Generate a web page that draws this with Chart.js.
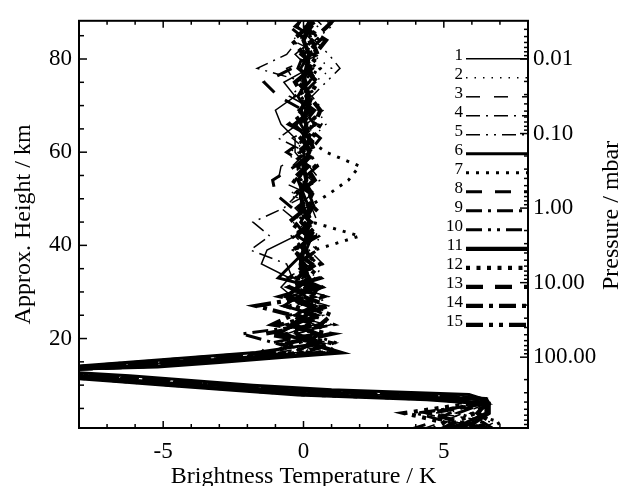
<!DOCTYPE html>
<html lang="en">
<head>
<meta charset="UTF-8">
<title>Brightness temperature profiles</title>
<style>
  body { margin: 0; background: #fff; }
</style>
</head>
<body>
<canvas id="myChart" width="625" height="486"></canvas>

<script src="https://cdn.jsdelivr.net/npm/chart.js"></script>
<script>
// approx. height of each profile level, km
const heights = [0.5, 2, 4, 6, 7, 8, 9, 10, 11, 12, 13, 14, 15, 16, 17,
  19, 21, 23, 25, 27, 29, 31, 33, 36, 39, 42, 45, 48, 51, 54, 57, 60, 63, 66, 69, 72, 75, 78, 81, 84, 87, 90];

// brightness temperature difference (K), one array per profile
const tb01 = [5.6, 6.0, 6.3, 6.4, 6.5, 2.5, -1.1, -3.3, -5.6, -7.8, -10.5, -6.7, -4.5, -2.4, -0.2,
  0.3, -0.6, 0.4, -0.3, 0.5, -0.4, -0.8, -0.5, -1.5, -1.3, -0.3, 0.2, -0.3, 0.3, -0.2, 0.1, -0.3, -0.3, -0.8, -1.0, -0.3, -0.7, 0.2, -0.3, 0.3, -0.2, 0.1];
const tb02 = [6.9, 6.3, 5.1, 6.3, 6.6, 4.4, -0.2, -2.4, -4.7, -6.9, -9.6, -6.0, -3.9, -1.7, 0.4,
  -0.5, 0.6, -0.2, 0.7, -0.6, 0.4, -0.3, 0.5, -0.2, 0.3, 0.6, -0.4, 0.2, -0.5, 0.4, -0.3, -0.5, 0.3, 0.8, 0.5, -0.2, 0.4, 1.0, 0.3, -0.4, 0.2, -0.1];
const tb03 = [4.2, 4.9, 5.7, 6.5, 5.4, 0.5, -2.0, -4.2, -6.4, -8.7, -11.4, -7.3, -5.2, -3.0, -0.9,
  0.9, -0.3, 1.0, 0.2, -0.8, 0.6, 0.0, -0.6, 0.3, -0.4, 0.4, -0.2, -0.8, 0.2, -0.9, -0.8, 0.2, -0.4, 0.5, -0.2, 0.3, -0.3, -0.6, 0.6, -0.4, 0.7, 0.2];
const tb04 = [6.3, 6.8, 4.7, 6.2, 6.4, 5.4, 0.5, -2.0, -4.2, -6.4, -9.2, -5.4, -3.2, -1.1, 1.1,
  -0.8, 0.3, -0.5, 0.4, 0.9, -0.2, 0.5, -0.4, -0.6, -1.9, -1.2, -1.8, -0.7, -0.2, 0.3, -0.4, 0.1, -0.9, -0.2, 0.4, -0.5, 0.1, -1.65, -0.6, -0.2, 0.5, 0.0];
const tb05 = [7.2, 5.5, 4.3, 6.4, 6.3, 1.5, -1.6, -3.8, -6.0, -8.2, -10.9, -7.8, -5.6, -3.5, -1.3,
  0.5, -0.2, 0.8, -0.4, 0.3, 0.9, -0.3, 0.4, 0.7, 0.2, -0.3, 0.5, 0.3, -0.4, 0.6, 0.2, -0.2, 0.5, 0.1, 0.7, 0.3, 0.8, 1.3, 0.9, 0.4, 1.0, 0.6];
const tb06 = [5.0, 5.8, 6.5, 6.5, 6.4, 5.9, 1.0, -1.8, -4.0, -6.2, -9.0, -8.2, -6.0, -3.9, -1.7,
  0.6, -0.9, -0.3, 0.5, -0.7, -0.2, 0.4, -0.9, -0.4, 0.1, 0.3, -0.1, 0.2, 0.0, -0.2, 0.1, 0.0, 0.2, -0.1, 0.1, -0.2, 0.1, -0.1, 0.2, 0.0, 0.3, 0.1];
const tb07 = [6.6, 7.0, 6.0, 6.6, 6.6, 3.0, -0.9, -3.1, -5.3, -7.6, -10.3, -5.6, -3.5, -1.3, 0.9,
  1.2, 0.2, 0.8, -0.3, 0.5, 0.1, -0.4, 0.2, 0.0, 0.4, 2.0, 0.3, 0.1, 0.9, 1.6, 2.0, 0.8, 0.1, 0.3, -0.2, 0.4, 0.1, 0.6, 0.2, 0.5, 0.3, 0.0];
const tb08 = [3.8, 4.6, 5.2, 6.3, 6.6, 4.9, 0.0, -2.2, -4.4, -6.7, -10.6, -8.0, -5.8, -3.7, -1.5,
  -1.2, 0.4, -0.6, 0.8, 0.1, -0.5, 0.7, 0.2, -0.3, 0.5, -0.2, 0.3, -0.4, -1.0, -1.1, -0.3, 0.3, -0.1, 0.4, 0.0, -0.9, -1.4, -0.4, 0.3, 0.1, -0.5, 0.2];
const tb09 = [6.0, 5.2, 4.0, 6.5, 5.9, 1.0, -1.8, -4.0, -6.2, -8.4, -11.1, -6.3, -4.1, -1.9, 0.2,
  -1.0, -2.2, 0.3, -0.5, 0.6, -0.9, 0.2, -0.3, 0.5, 0.0, -0.4, 0.3, -0.2, 0.4, -0.3, 0.2, -0.6, 0.1, -0.3, 0.3, -0.1, 0.4, -0.2, 0.0, 0.6, -0.3, 0.2];
const tb10 = [6.8, 6.4, 5.5, 6.4, 6.5, 3.9, -0.4, -2.7, -4.9, -7.1, -9.8, -6.9, -4.7, -2.6, -0.4,
  0.4, -0.7, 1.1, 0.3, -0.5, 0.8, -0.6, 0.3, -0.2, 0.5, 0.1, -0.3, 0.4, 0.2, -0.1, 0.5, 0.2, 0.6, 0.0, 0.4, -0.3, 0.2, 0.5, -0.1, 0.3, 0.1, 0.4];
const tb11 = [5.3, 6.1, 6.6, 6.6, 4.4, -0.2, -2.4, -4.7, -6.9, -9.1, -11.8, -5.2, -3.0, -0.9, 1.3,
  0.2, 0.5, -0.4, 0.1, 0.3, -0.6, -0.2, 0.2, -0.1, 0.0, 0.1, 0.2, 0.0, -0.1, 0.1, 0.0, 0.2, 0.0, 0.1, -0.1, 0.2, 0.0, 0.1, 0.2, 0.0, 0.2, 0.3];
const tb12 = [4.6, 5.0, 3.6, 5.9, 4.9, 0.0, -2.2, -4.4, -6.7, -8.9, -11.6, -7.5, -5.4, -3.2, -1.1,
  -0.3, 0.8, -0.8, 0.4, -0.3, 0.7, 0.1, -0.5, 0.6, -0.2, 0.4, 0.0, 0.5, -0.3, 0.2, 0.4, -0.1, 0.3, 0.6, 0.1, 0.3, -0.2, 0.2, 0.5, 0.2, 0.4, 0.1];
const tb13 = [5.9, 6.7, 6.2, 6.5, 6.5, 3.5, -0.7, -2.9, -5.1, -7.3, -10.1, -5.8, -3.7, -1.5, 0.7,
  0.7, -1.4, 0.5, -0.2, 0.9, 0.0, 0.6, -0.2, 0.3, 0.1, -0.3, 0.4, -0.1, 0.3, 0.0, -0.2, 0.4, 0.2, -0.3, 0.3, 0.1, 0.4, 0.2, 0.5, 0.3, 0.85, 1.3];
const tb14 = [6.5, 5.6, 4.5, 6.3, 6.4, 2.0, -1.3, -3.6, -5.8, -8.0, -10.8, -7.1, -5.0, -2.8, -0.7,
  -0.6, 1.0, -1.1, -0.4, -1.7, 0.3, -0.5, 0.6, 0.0, -0.3, 0.2, -0.5, 0.1, 0.3, -0.4, 0.1, -0.2, 0.4, -0.5, 0.2, 0.0, -0.3, 0.3, 0.0, -0.4, 0.2, -0.1];
const tb15 = [4.9, 5.4, 6.1, 6.6, 6.5, 3.5, -0.7, -2.9, -5.1, -7.3, -10.1, -6.5, -4.3, -2.2, 0.0,
  1.0, -0.4, 0.6, 1.0, 0.2, -0.7, 0.4, 0.0, 0.3, -0.4, 0.5, 0.0, 0.3, -0.2, 0.4, 0.1, 0.3, -0.1, 0.4, 0.6, 0.2, 0.5, 0.0, 0.4, 0.8, 0.0, 0.3];

const profiles = [tb01, tb02, tb03, tb04, tb05, tb06, tb07, tb08, tb09, tb10, tb11, tb12, tb13, tb14, tb15];
const profileLabels = ['1', '2', '3', '4', '5', '6', '7', '8', '9', '10', '11', '12', '13', '14', '15'];

const xTickLabels = ['-5', '0', '5'];
const heightTickLabels = ['20', '40', '60', '80'];
const pressureMajor = [0.01, 0.1, 1, 10, 100];
const pressureLabels = ['0.01', '0.10', '1.00', '10.00', '100.00'];

// height <-> pressure used for the right axis
const hRef = 80, pRef = 0.01, kmPerDecade = 16.0;
const pressureAt = h => pRef * Math.pow(10, (hRef - h) / kmPerDecade);

const yMin = 0.8, yMax = 88.2;
const serif = "'Liberation Serif', 'Times New Roman', serif";

// line widths and dash patterns: solid, dotted, dashed, dash-dot, dash-dot-dot
const widths = [1.5, 3, 4.2];
const dashes = [
  [[], [1.5, 7], [14, 14], [14, 6, 2, 6], [14, 6, 2, 6, 2, 6]],
  [[], [3, 7], [16, 13], [16, 6, 3, 6], [16, 6, 3, 6, 3, 6]],
  [[], [4, 6.5], [17, 12], [17, 6, 4, 6], [17, 6, 4, 6, 4, 6]]
];

const datasets = profiles.map((vals, i) => ({
  label: profileLabels[i],
  data: heights.map((h, j) => ({ x: vals[j], y: h })),
  showLine: true,
  borderColor: '#000',
  backgroundColor: '#000',
  borderWidth: widths[Math.floor(i / 5)],
  borderDash: dashes[Math.floor(i / 5)][i % 5],
  pointRadius: 0,
  tension: 0,
  clip: 0
}));

// minor + major pressure ticks across the axis range
const pressureTicks = [];
for (let k = -3; k <= 2; k++) {
  for (let m = 1; m <= 9; m++) {
    const p = m * Math.pow(10, k);
    if (p >= pressureAt(yMax) && p <= pressureAt(yMin)) pressureTicks.push(p);
  }
}
const majorIndex = v => pressureMajor.findIndex(p => Math.abs(p - v) / p < 1e-9);

const frameTicks = {
  id: 'frameTicks',
  afterDraw: (chart) => {
    const { ctx, chartArea: a, scales } = chart;
    const seg = (x1, y1, x2, y2) => { ctx.beginPath(); ctx.moveTo(x1, y1); ctx.lineTo(x2, y2); ctx.stroke(); };
    ctx.save();
    ctx.strokeStyle = '#000';
    ctx.lineWidth = 1.5;
    scales.x.ticks.forEach(t => {
      const px = scales.x.getPixelForValue(t.value);
      const len = t.value % 5 === 0 ? 7 : 4;
      seg(px, a.bottom, px, a.bottom - len);
      seg(px, a.top, px, a.top + len);
    });
    scales.y.ticks.forEach(t => {
      const py = scales.y.getPixelForValue(t.value);
      const len = t.value % 20 === 0 ? 8 : 5;
      seg(a.left, py, a.left + len, py);
    });
    scales.p.ticks.forEach(t => {
      const py = scales.p.getPixelForValue(t.value);
      const len = majorIndex(t.value) >= 0 ? 8 : 4;
      seg(a.right, py, a.right - len, py);
    });
    ctx.lineWidth = 2;
    ctx.strokeRect(a.left, a.top, a.right - a.left, a.bottom - a.top);

    // legend, inside the plot at the top right
    ctx.font = '17px ' + serif;
    ctx.fillStyle = '#000';
    ctx.textAlign = 'right';
    ctx.textBaseline = 'alphabetic';
    chart.data.datasets.forEach((ds, i) => {
      const y = a.top + 38 + i * 19;
      ctx.fillText(ds.label, a.right - 65, y + 1.5);
      ctx.lineWidth = ds.borderWidth;
      ctx.setLineDash(ds.borderDash);
      seg(a.right - 62, y, a.right, y);
    });
    ctx.setLineDash([]);

    // right axis title reads bottom to top
    ctx.font = '24px ' + serif;
    ctx.textAlign = 'center';
    ctx.textBaseline = 'middle';
    ctx.translate(612, (a.top + a.bottom) / 2 - 9);
    ctx.rotate(-Math.PI / 2);
    ctx.fillText('Pressure / mbar', 0, 0);
    ctx.restore();
  }
};

const config = {
  type: 'scatter',
  data: { datasets: datasets },
  plugins: [frameTicks],
  options: {
    responsive: false,
    animation: false,
    layout: { padding: { top: 14, left: 0, right: 0, bottom: 0 } },
    plugins: { legend: { display: false }, tooltip: { enabled: false } },
    scales: {
      x: {
        type: 'linear', position: 'bottom', min: -8, max: 8,
        grid: { display: false, drawTicks: false },
        border: { display: false },
        ticks: {
          stepSize: 1, autoSkip: false, maxRotation: 0, padding: 10, color: '#000',
          font: { family: serif, size: 23 },
          callback: v => xTickLabels.includes(String(v)) ? String(v) : ''
        },
        title: {
          display: true, text: 'Brightness Temperature / K', color: '#000',
          font: { family: serif, size: 24, lineHeight: 1 }, padding: { top: 0, bottom: -3 }
        },
        afterFit: s => { s.height = 58; }
      },
      y: {
        type: 'linear', position: 'left', min: yMin, max: yMax,
        grid: { display: false, drawTicks: false },
        border: { display: false },
        ticks: {
          stepSize: 5, autoSkip: false, includeBounds: false, padding: 7, color: '#000',
          font: { family: serif, size: 23 },
          callback: v => heightTickLabels.includes(String(v)) ? String(v) : ''
        },
        title: {
          display: true, text: 'Approx. Height / km', color: '#000',
          font: { family: serif, size: 24, lineHeight: 1 }, padding: { top: 12, bottom: 0 }
        },
        afterFit: s => { s.width = 79; }
      },
      p: {
        type: 'logarithmic', position: 'right', reverse: true,
        min: pressureAt(yMax), max: pressureAt(yMin),
        grid: { display: false, drawTicks: false },
        border: { display: false },
        afterBuildTicks: s => { s.ticks = pressureTicks.map(v => ({ value: v })); },
        ticks: {
          autoSkip: false, padding: 5, color: '#000',
          font: { family: serif, size: 23 },
          callback: v => { const k = majorIndex(v); return k >= 0 ? pressureLabels[k] : ''; }
        },
        afterFit: s => { s.width = 97; }
      }
    }
  }
};

const myChart = new Chart(document.getElementById('myChart'), config);
</script>
</body>
</html>
